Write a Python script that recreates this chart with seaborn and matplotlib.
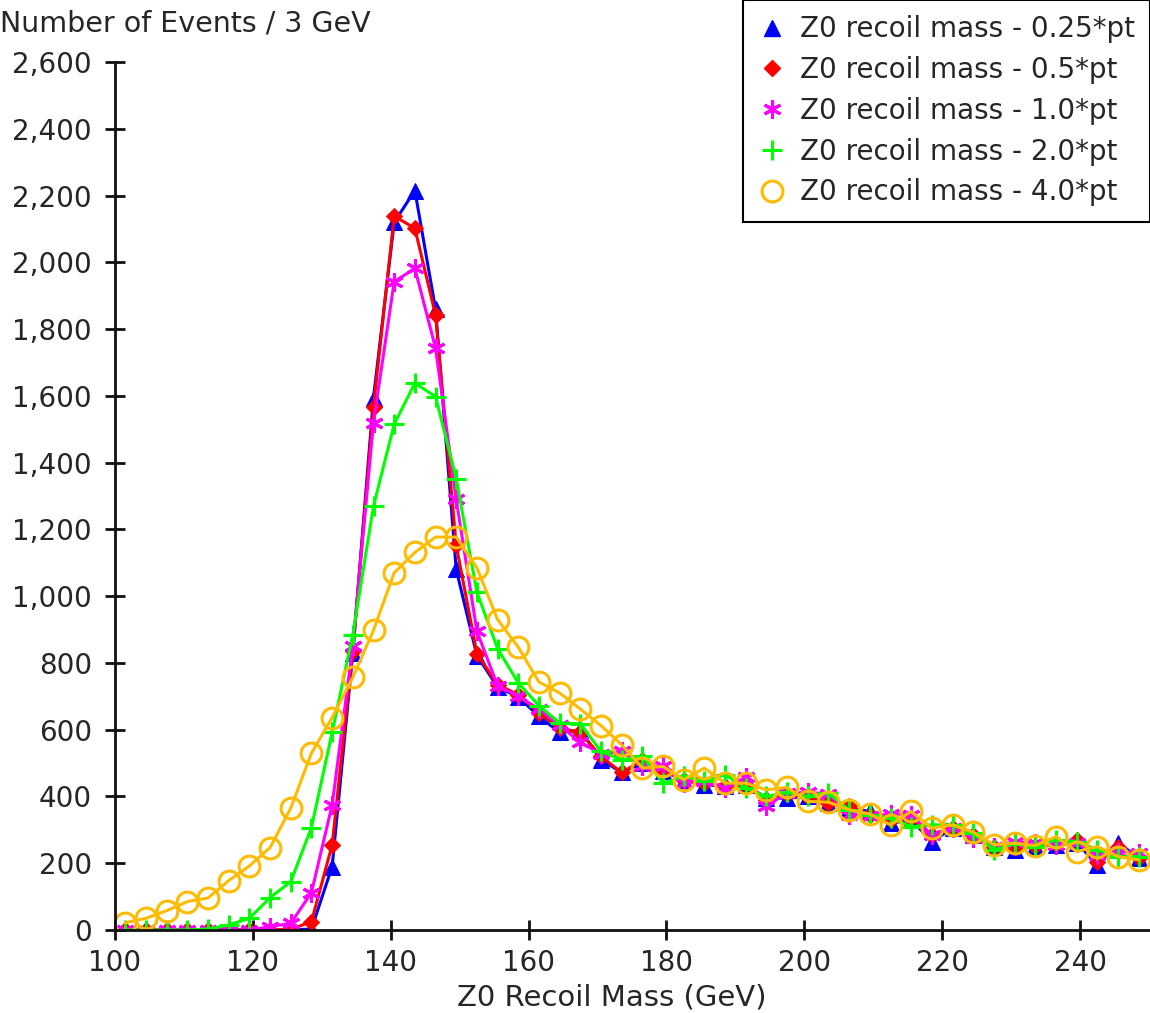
import numpy as np
import pandas as pd
import matplotlib
matplotlib.use("Agg")
import matplotlib.pyplot as plt
from matplotlib.lines import Line2D
from matplotlib.ticker import FuncFormatter, MultipleLocator
import seaborn as sns

# bin centres (3 GeV bins from 100 to 250)
mass = [101.5 + 3 * i for i in range(50)]

pt025 = [0, 0, 0, 0, 0, 0, 0, 0, 0, 3, 190, 830, 1595, 2120, 2215, 1860, 1080, 822, 728, 698,
         640, 592, 598, 510, 472, 500, 475, 450, 435, 430, 435, 395, 395, 400, 380, 365, 355, 320, 330, 265,
         305, 285, 250, 240, 252, 255, 262, 195, 262, 215]
pt05 = [0, 0, 0, 0, 0, 0, 0, 0, 2, 25, 255, 835, 1568, 2138, 2102, 1842, 1152, 828, 735, 705,
        650, 605, 592, 520, 472, 508, 478, 450, 440, 430, 435, 390, 408, 398, 380, 370, 345, 330, 335, 285,
        305, 285, 250, 250, 252, 258, 270, 205, 250, 215]
pt10 = [0, 0, 0, 0, 0, 0, 0, 10, 20, 112, 375, 850, 1520, 1942, 1982, 1743, 1290, 895, 732, 700,
        662, 613, 562, 528, 535, 490, 490, 440, 445, 425, 458, 372, 410, 412, 408, 345, 340, 348, 345, 285,
        305, 276, 250, 265, 260, 255, 260, 225, 235, 232]
pt20 = [0, 0, 0, 0, 3, 15, 35, 97, 145, 307, 592, 885, 1270, 1515, 1638, 1598, 1352, 1012, 843, 740,
        672, 620, 618, 535, 510, 520, 440, 460, 445, 465, 425, 400, 412, 400, 410, 360, 345, 335, 310, 315,
        315, 290, 240, 258, 250, 270, 265, 240, 220, 220]
pt40 = [22, 35, 58, 85, 96, 148, 192, 247, 365, 530, 636, 757, 898, 1070, 1131, 1177, 1177, 1085, 930, 847,
        743, 710, 662, 612, 555, 485, 490, 450, 485, 440, 440, 420, 427, 385, 383, 360, 347, 315, 355, 305,
        315, 293, 255, 260, 253, 280, 235, 250, 220, 210]

labels = ["Z0 recoil mass - 0.25*pt", "Z0 recoil mass - 0.5*pt", "Z0 recoil mass - 1.0*pt",
          "Z0 recoil mass - 2.0*pt", "Z0 recoil mass - 4.0*pt"]
series = [pt025, pt05, pt10, pt20, pt40]
colors = ["#0000ff", "#ff0000", "#ff00ff", "#00ff00", "#ffbb00"]

sns.set_style("ticks")
plt.rcParams['font.family'] = ['DejaVu Sans']

W, H = 1150, 1013
fig = plt.figure(figsize=(W / 100, H / 100), dpi=100)
ax = fig.add_axes([115 / W, (H - 930) / H, (1149 - 115) / W, (930 - 62) / H])

styles = [
    dict(marker="^", markersize=11, markerfacecolor="#0000ff", markeredgecolor="#0000ff"),
    dict(marker="D", markersize=8, markerfacecolor="#ff0000", markeredgecolor="#ff0000"),
    dict(marker=(6, 2, 0), markersize=13, markeredgewidth=2.2, markeredgecolor="#ff00ff"),
    dict(marker="+", markersize=15, markeredgewidth=2.2, markeredgecolor="#00ff00"),
    dict(marker="o", markersize=15, markerfacecolor="none", markeredgewidth=2.2, markeredgecolor="#ffbb00"),
]

for vals, lab, col, st in zip(series, labels, colors, styles):
    df = pd.DataFrame({"mass": mass, "events": vals})
    sns.lineplot(data=df, x="mass", y="events", ax=ax, color=col, linewidth=2.2,
                 legend=False, **st)

ax.set_xlim(100, 250)
ax.set_ylim(0, 2600)
ax.xaxis.set_major_locator(MultipleLocator(20))
ax.yaxis.set_major_locator(MultipleLocator(200))
ax.yaxis.set_major_formatter(FuncFormatter(lambda v, p: f"{int(round(v)):,}"))
ax.set_xlabel("")
ax.set_ylabel("")
for s in ["top", "right"]:
    ax.spines[s].set_visible(False)
for s in ["left", "bottom"]:
    ax.spines[s].set_linewidth(2)
    ax.spines[s].set_color("#111111")
ax.tick_params(axis="both", direction="inout", length=15, width=2, labelsize=20,
               color="#111111")
ax.tick_params(axis="y", pad=9)
ax.tick_params(axis="x", pad=6)

fig.text(0 / W, 1 - 23 / H, "Number of Events / 3 GeV", fontsize=20.5, ha="left", va="center")
fig.text(612 / W, 1 - 997 / H, "Z0 Recoil Mass (GeV)", fontsize=21, ha="center", va="center")

handles = []
for lab, st in zip(labels, styles):
    handles.append(Line2D([], [], linestyle="none", label=lab, **st))
leg = fig.legend(handles=handles, loc="upper right", bbox_to_anchor=(1.0, 1.0),
                 fontsize=20, frameon=True, fancybox=False, edgecolor="black",
                 labelspacing=0.46, handletextpad=0.5, borderpad=0.55, handlelength=1.0,
                 borderaxespad=0.0)
leg.get_frame().set_linewidth(1.5)
leg.get_frame().set_alpha(1)

fig.savefig("out.png", dpi=100)
